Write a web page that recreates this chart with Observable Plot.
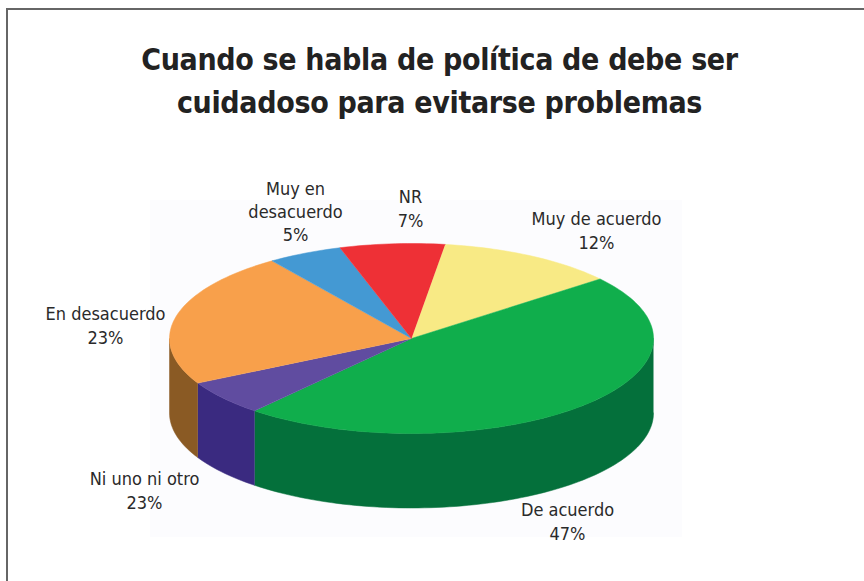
<!DOCTYPE html>
<html lang="es">
<head>
<meta charset="utf-8">
<title>Cuando se habla de política</title>
<script src="https://cdn.jsdelivr.net/npm/d3@7"></script>
<script src="https://cdn.jsdelivr.net/npm/@observablehq/plot@0.6"></script>
<style>
  html, body { margin: 0; padding: 0; background: #fff; }
  #page { position: relative; width: 864px; height: 581px; overflow: hidden; font-family: "DejaVu Sans Condensed", "DejaVu Sans", sans-serif; }
  #frame { position: absolute; left: 6px; top: 8px; width: 900px; height: 600px; border: 2px solid #666; box-sizing: border-box; }
  #backdrop { position: absolute; left: 150px; top: 200px; width: 532px; height: 337px; background: #fcfcfe; }
  #chart-title { position: absolute; left: 0; top: 38px; width: 879px; margin: 0; text-align: center; color: #222; font-size: 30px; line-height: 43px; font-weight: bold; letter-spacing: -0.33px; }
  #chart { position: absolute; left: 0; top: 0; }
</style>
</head>
<body>
<div id="page">
  <div id="frame"></div>
  <div id="backdrop"></div>
  <h1 id="chart-title">Cuando se habla de política de debe ser<br>cuidadoso para evitarse problemas</h1>
  <div id="chart"></div>
</div>
<script>
// Answer categories in clockwise order, starting from the top of the pie.
const categories = ["Muy de acuerdo", "De acuerdo", "Ni uno ni otro", "En desacuerdo", "Muy en desacuerdo", "NR"];
// Share of the pie each slice covers.
const shares = [12, 47, 6, 23, 5, 7];
// Percentages as printed beside each slice. "Ni uno ni otro" is printed as 23%
// although its slice covers about 6%, and the printed figures add up to 117.
const printedPercent = [12, 47, 23, 23, 5, 7];
const labelLines = ["Muy de acuerdo", "De acuerdo", "Ni uno ni otro", "En desacuerdo", "Muy en\ndesacuerdo", "NR"];
const topColors = ["#f8ea85", "#10ae4c", "#604ca0", "#f8a04b", "#4499d3", "#ee3036"];
const sideColors = ["#c4b85f", "#04703b", "#3a2a80", "#8a5a24", "#2a6a9a", "#a02024"];

// Pie layout in chart units: the disc is an ellipse with a visible rim below it.
const disc = { cx: 411, cy: 338, rx: 242, ry: 95, depth: 74.5, start: 82 };
const labelAnchors = [[596, 229], [567, 520], [144, 489], [105, 324], [295, 210], [410, 207]];

const total = d3.sum(shares);
const rim = (t, drop = 0) => ({
  x: disc.cx + disc.rx * Math.cos(t * Math.PI / 180),
  y: disc.cy - disc.ry * Math.sin(t * Math.PI / 180) + drop
});

// Angles run clockwise, so each slice goes from a larger t to a smaller one.
let cursor = disc.start;
const slices = categories.map((name, i) => {
  const from = cursor;
  const to = cursor - shares[i] / total * 360;
  cursor = to;
  return { name, from, to };
});

const arc = (from, to, drop = 0) => {
  const steps = Math.max(2, Math.ceil(Math.abs(from - to) / 1.5));
  return d3.range(steps + 1).map(k => rim(from + (to - from) * k / steps, drop));
};

// Top faces: a wedge from the centre along the outer arc.
const topFaces = slices.flatMap(s =>
  [{ x: disc.cx, y: disc.cy }, ...arc(s.from, s.to)].map(p => ({ ...p, key: s.name }))
);

// Rim faces: only the part of each arc on the near half of the disc shows.
const sideFaces = slices.flatMap(s => {
  const from = Math.min(s.from, 0), to = Math.max(s.to, -180);
  if (from <= to) return [];
  return [...arc(from, to), ...arc(to, from, disc.depth)].map(p => ({ ...p, key: s.name + " (lado)" }));
});

const labels = categories.map((name, i) => ({
  text: `${labelLines[i]}\n${printedPercent[i]}%`,
  x: labelAnchors[i][0],
  y: labelAnchors[i][1]
}));

const chart = Plot.plot({
  width: 864,
  height: 581,
  margin: 0,
  style: { background: "transparent", overflow: "visible" },
  x: { domain: [0, 864], range: [0, 864], axis: null },
  y: { domain: [0, 581], range: [0, 581], axis: null },
  color: {
    domain: [...categories, ...categories.map(c => c + " (lado)")],
    range: [...topColors, ...sideColors]
  },
  marks: [
    Plot.line(sideFaces, { x: "x", y: "y", z: "key", fill: "key", stroke: "key", strokeWidth: 0.5 }),
    Plot.line(topFaces, { x: "x", y: "y", z: "key", fill: "key", stroke: "key", strokeWidth: 0.5 }),
    Plot.text(labels, {
      x: "x", y: "y", text: "text",
      fontFamily: "DejaVu Sans Condensed", fontSize: 18, lineHeight: 1.3,
      fill: "#2a2a2a", textAnchor: "middle"
    })
  ]
});
document.getElementById("chart").append(chart);
</script>
</body>
</html>
